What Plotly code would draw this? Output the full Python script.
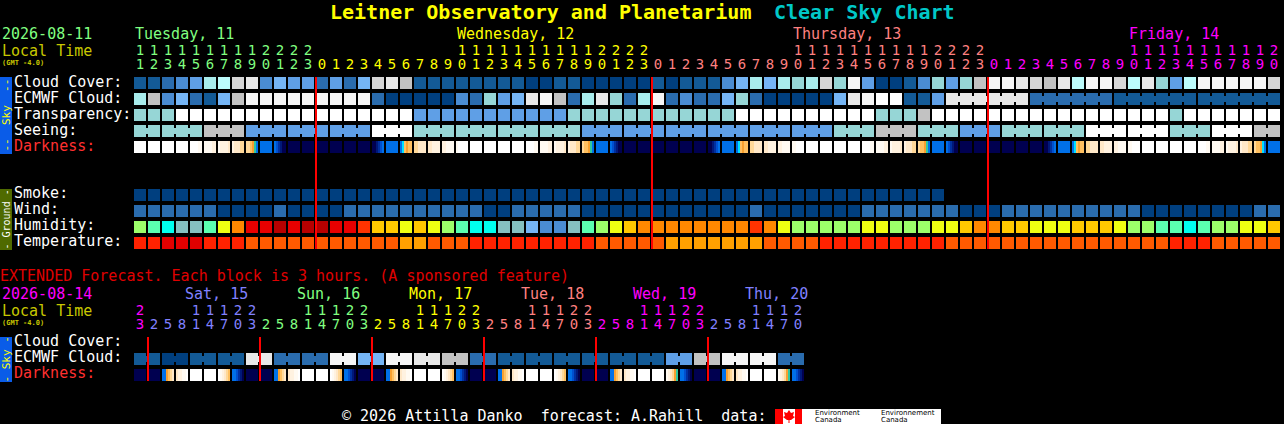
import plotly.graph_objects as go

# Palettes
CLOUD_COLORS = ['#003f7f', '#135a96', '#2a6cae', '#4a8cd2', '#5f9fe6', '#75b5f5', '#96d6d6',
                '#a8ecec', '#bcfcfc', '#c2c2c2', '#d6d6d6', '#e8e8e8', '#f6f6f6', '#ffffff']
HUMID_COLORS = ['#9cff6a', '#5bffb0', '#00ffee', '#85c0c0', '#4a8cd2', '#75b5f5',
                '#efff12', '#ffc800', '#ff8800', '#ff3300', '#e80000', '#b80000']
TEMP_COLORS = ['#ff2200', '#e00000', '#ff5a00', '#ffa000']
DARK_LETTERS = 'WABCDEFTYLMNOK'
DARK_COLORS = ['#ffffff', '#fffaf2', '#fff2e0', '#ffe8c8', '#ffd898', '#ffc060', '#f8a030',
               '#30c8a0', '#00e0ff', '#0070e8', '#0050d0', '#0030a0', '#001878', '#000050']

# Main forecast, one value per hour block
CLOUD_COVER = [1, 1, 2, 3, 4, 7, 8, 10, 11, 3, 5, 4, 4, 2, 4, 2, 5, 10, 11, 9, 1,
               1, 1, 1, 1, 1, 1, 1, 0, 0, 1, 1, 0, 0, 0, 0, 0, 1, 0, 1, 1, 1, 3, 5, 7, 5, 7, 6, 7, 10, 6, 12,
               4, 0, 0, 1, 3, 6, 4, 6, 9, 12, 12, 11, 10, 9, 11, 8, 12, 12, 10, 8, 11, 6, 4, 8, 12, 12, 12, 12, 12, 10]
ECMWF_CLOUD = [7, 9, 3, 5, 2, 1, 5, 9, 12, 12, 12, 12, 12, 12, 12, 12, 12, 2, 0, 0, 0,
               0, 0, 3, 2, 6, 4, 5, 11, 12, 9, 2, 7, 11, 6, 2, 7, 12, 2, 3, 2, 2, 5, 6, 2, 0, 0, 0, 0, 0, 5, 11,
               12, 13, 13, 1, 1, 4, 11, 11, 11, 11, 11, 11, 2, 2, 2, 2, 2, 2, 1, 1, 1, 1, 1, 1, 1, 1, 1, 1, 1, 1]
TRANSPARENCY = [6] * 3 + [13] * 17 + [4] * 11 + [6] * 12 + [13] * 10 + [6] * 3 + [9] + [13] * 17 + [6] + [13] * 7
SEEING_BLOCKS = [6, 6, 9, 4, 4, 4, 13, 6, 6, 6, 6, 4, 4, 4, 4, 4, 4, 6, 9, 6, 4, 6, 6, 13, 13, 6, 13, 9]
SMOKE = [0] * 58
WIND = [2, 2, 2, 2, 2, 2, 0, 0, 0, 0, 2, 0, 0, 0, 0, 2, 2, 2, 2, 2, 2,
        2, 2, 2, 2, 0, 0, 2, 2, 2, 2, 2, 0, 0, 0, 0, 0, 0, 0, 0, 0, 0, 0, 0, 2, 0, 0, 0, 0, 0, 0, 0,
        2, 2, 2, 2, 2, 2, 2, 0, 0, 0, 2, 2, 2, 2, 2, 2, 2, 2, 2, 2, 0, 0, 0, 0, 0, 0, 0, 0, 2, 2]
HUMIDITY = [0, 1, 2, 3, 3, 1, 6, 8, 10, 10, 11, 10, 11, 11, 10, 10, 9, 7, 7, 6, 7,
            6, 0, 1, 2, 2, 3, 3, 5, 4, 4, 3, 1, 0, 6, 7, 8, 8, 8, 8, 8, 8, 8, 8, 9, 8, 6, 0, 0, 0, 0, 0,
            6, 6, 0, 0, 0, 6, 6, 7, 8, 8, 7, 7, 6, 6, 6, 7, 7, 7, 6, 0, 0, 1, 1, 2, 1, 0, 0, 6, 6, 7]
TEMPERATURE = [0, 0, 1, 1, 1, 0, 0, 0, 2, 2, 2, 2, 2, 2, 2, 2, 2, 2, 2, 3, 3,
               2, 2, 2, 0, 0, 0, 0, 0, 0, 0, 0, 0, 2, 2, 2, 2, 2, 3, 3, 3, 3, 3, 3, 3, 2, 2, 2, 2, 0, 0, 0,
               0, 0, 0, 0, 0, 0, 2, 2, 2, 2, 2, 2, 2, 2, 2, 2, 2, 2, 2, 2, 2, 2, 0, 0, 0, 2, 2, 2, 2, 2]
# six samples across each block, letters index DARK_COLORS
DARKNESS = ['WWWWWW', 'WWWWWW', 'WWWWWW', 'WWWWWW', 'WWWWAA', 'AAAABB', 'ABBBBC', 'BCCCDD', 'DDEFTL', 'LLLLLL',
            'LMNOKK', 'KKKKKK', 'KKKKKK', 'KKKKKK', 'KKKKKK', 'KKKKKK', 'KKKKKK', 'KKONML', 'LLLLLL', 'LYEFEE',
            'DDCCCC', 'CCBBBB', 'BBAAAA', 'AWWWWW', 'WWWWWW', 'WWWWWW', 'WWWWWW', 'WWWWWW', 'WWWWAA', 'AAAABB',
            'ABBBBC', 'BCCCDD', 'DEEFTL', 'LLLLLL', 'LMNOKK', 'KKKKKK', 'KKKKKK', 'KKKKKK', 'KKKKKK', 'KKKKKK',
            'KKKKKK', 'KKONML', 'LLLLLL', 'LYEFEE', 'DDCCCC', 'CCBBBB', 'BBAAAA', 'AAWWWW', 'WWWWWW', 'WWWWWW',
            'WWWWWW', 'WWWWWW', 'WWWWAA', 'AAAABB', 'ABBBBC', 'BCCCDD', 'DEEFTL', 'LLLLLL', 'LMNOKK', 'KKKKKK',
            'KKKKKK', 'KKKKKK', 'KKKKKK', 'KKKKKK', 'KKKKKK', 'KKONML', 'LLLLLL', 'LYEFEE', 'DDCCCC', 'CCBBBB',
            'BBAAAA', 'AAWWWW', 'WWWWWW', 'WWWWWW', 'WWWWWW', 'WWWWWW', 'WWWWAA', 'AAAABB', 'ABBBBC', 'BCCCDD',
            'DEEFYL', 'LLLLLL']

DAY_NAMES = ['Tuesday, 11', 'Wednesday, 12', 'Thursday, 13', 'Friday, 14']
DAY_COLORS = ['#80ff80', '#ffff00', '#ff8080', '#ff00ff']
DAY_HOURS = [[11, 12, 13, 14, 15, 16, 17, 18, 19, 20, 21, 22, 23],
             [0, 1, 2, 3, 4, 5, 6, 7, 8, 9, 10, 11, 12, 13, 14, 15, 16, 17, 18, 19, 20, 21, 22, 23],
             [0, 1, 2, 3, 4, 5, 6, 7, 8, 9, 10, 11, 12, 13, 14, 15, 16, 17, 18, 19, 20, 21, 22, 23],
             [0, 1, 2, 3, 4, 5, 6, 7, 8, 9, 10, 11, 12, 13, 14, 15, 16, 17, 18, 19, 20]]
DAY_LABEL_X = [135, 457, 793, 1129]
MIDNIGHT_COLS = [13, 37, 61]

# Extended forecast, each block is 3 hours
EXT_ECMWF_PAIRS = [1, 0, 1, 1, 11, 2, 2, 12, 5, 12, 11, 9, 2, 1, 1, 1, 1, 1, 1, 4, 9, 12, 12, 2]
EXT_DARKNESS = ['KKKKKK', 'KKKKKK', 'LLFEDC', 'CBBAAW', 'WWWWWW', 'WWWWWW', 'WABCDE', 'LLMNOK',
                'KKKKKK', 'KKKKKK', 'LLFEDC', 'CBBAAW', 'WWWWWW', 'WWWWWW', 'WABCDE', 'LLMNOK',
                'KKKKKK', 'KKKKKK', 'LLFEDC', 'CBBAAW', 'WWWWWW', 'WWWWWW', 'WABCDE', 'LLMNOK',
                'KKKKKK', 'KKKKKK', 'LLFEDC', 'CBBAAW', 'WWWWWW', 'WWWWWW', 'WABCDE', 'LLMNOK',
                'KKKKKK', 'KKKKKK', 'LLFEDC', 'CBBAAW', 'WWWWWW', 'WWWWWW', 'ABCDFT', 'LLMNOK',
                'KKKKKK', 'KKKKKK', 'LLFEDC', 'CBBAAW', 'WWWWWW', 'WWWWWW', 'ABCDFT', 'LLMNOK']
EXT_DAY_NAMES = ['Sat, 15', 'Sun, 16', 'Mon, 17', 'Tue, 18', 'Wed, 19', 'Thu, 20']
EXT_DAY_COLORS = ['#ff00ff', '#8080ff', '#80ff80', '#ffff00', '#ff8080', '#ff00ff', '#8080ff']
EXT_DAY_HOURS = [[23],
                 [2, 5, 8, 11, 14, 17, 20, 23],
                 [2, 5, 8, 11, 14, 17, 20, 23],
                 [2, 5, 8, 11, 14, 17, 20, 23],
                 [2, 5, 8, 11, 14, 17, 20, 23],
                 [2, 5, 8, 11, 14, 17, 20, 23],
                 [2, 5, 8, 11, 14, 17, 20]]
EXT_DAY_LABEL_X = [185, 297, 409, 521, 633, 745]
EXT_MIDNIGHT_COLS = [1, 9, 17, 25, 33, 41]

MONO = 'DejaVu Sans Mono'
CELL_X0 = 134
PITCH = 14

fig = go.Figure()


def colorscale(colors):
    return [[i / (len(colors) - 1), c] for i, c in enumerate(colors)]


def add_row(values, colors, top):
    fig.add_trace(go.Heatmap(z=[values], x0=CELL_X0 + 6, dx=PITCH, y0=top + 6, dy=16,
                             xgap=2, ygap=4, zmin=0, zmax=len(colors) - 1,
                             colorscale=colorscale(colors), showscale=False, hoverinfo='skip'))


def add_joins(values, groups, colors, top):
    # the thin bridge between blocks that belong to one forecast period
    joins = [v if g is not None and g == n else None
             for v, g, n in zip(values, groups, groups[1:])]
    fig.add_trace(go.Heatmap(z=[joins], x0=CELL_X0 + 13, dx=PITCH, y0=top + 6, dy=16,
                             xgap=12, ygap=10, zmin=0, zmax=len(colors) - 1,
                             colorscale=colorscale(colors), showscale=False, hoverinfo='skip'))


def add_darkness(samples, top):
    z = []
    for cell in samples:
        z += [DARK_LETTERS.index(c) for c in cell] + [None]
    fig.add_trace(go.Heatmap(z=[z], x0=CELL_X0 + 1, dx=2, y0=top + 6, dy=16,
                             ygap=4, zmin=0, zmax=len(DARK_COLORS) - 1,
                             colorscale=colorscale(DARK_COLORS), showscale=False, hoverinfo='skip'))


def label(x, y, text, color='#ffffff', size=15, anchor='left', bold=False, font=MONO, angle=0):
    if bold:
        text = f'<b>{text}</b>'
    fig.add_annotation(x=x, y=y, text=text, showarrow=False, xanchor=anchor, yanchor='middle',
                       textangle=angle, font=dict(family=font, size=size, color=color), borderpad=0, borderwidth=0)


def add_hours(day_hours, day_colors, tens_y, units_y):
    col = 0
    for hours, color in zip(day_hours, day_colors):
        xs = [CELL_X0 + 6 + PITCH * (col + i) for i in range(len(hours))]
        fig.add_trace(go.Scatter(x=xs, y=[tens_y] * len(hours), mode='text',
                                 text=[str(h // 10) if h >= 10 else '' for h in hours],
                                 textfont=dict(family=MONO, size=14, color=color),
                                 showlegend=False, hoverinfo='skip'))
        fig.add_trace(go.Scatter(x=xs, y=[units_y] * len(hours), mode='text',
                                 text=[str(h % 10) for h in hours],
                                 textfont=dict(family=MONO, size=14, color=color),
                                 showlegend=False, hoverinfo='skip'))
        col += len(hours)


# %% Main rows
seeing = []
seeing_groups = []
for b, val in enumerate(SEEING_BLOCKS):
    n = 2 if b == 0 or b == len(SEEING_BLOCKS) - 1 else 3
    seeing += [val] * n
    seeing_groups += [b] * n

ecmwf_groups = [None] * 58 + [(c - 58) // 6 for c in range(58, 82)]

add_row(CLOUD_COVER, CLOUD_COLORS, 77)
add_row(ECMWF_CLOUD, CLOUD_COLORS, 93)
add_joins(ECMWF_CLOUD, ecmwf_groups, CLOUD_COLORS, 93)
add_row(TRANSPARENCY, CLOUD_COLORS, 109)
add_row(seeing, CLOUD_COLORS, 125)
add_joins(seeing, seeing_groups, CLOUD_COLORS, 125)
add_darkness(DARKNESS, 141)
add_row(SMOKE, CLOUD_COLORS, 189)
add_row(WIND, CLOUD_COLORS, 205)
add_row(HUMIDITY, HUMID_COLORS, 221)
add_row(TEMPERATURE, TEMP_COLORS, 237)

# %% Extended rows
ext_ecmwf = []
ext_groups = []
for p, val in enumerate(EXT_ECMWF_PAIRS):
    ext_ecmwf += [val, val]
    ext_groups += [p, p]
add_row(ext_ecmwf, CLOUD_COLORS, 353)
add_joins(ext_ecmwf, ext_groups, CLOUD_COLORS, 353)
add_darkness(EXT_DARKNESS, 369)

add_hours(DAY_HOURS, DAY_COLORS, 51, 65)
add_hours(EXT_DAY_HOURS, EXT_DAY_COLORS, 311, 325)

# %% Now markers
for col in MIDNIGHT_COLS:
    x = CELL_X0 + PITCH * col
    fig.add_shape(type='line', x0=x, x1=x, y0=77, y1=249, line=dict(color='#ff0000', width=2))
for col in EXT_MIDNIGHT_COLS:
    x = CELL_X0 + PITCH * col
    fig.add_shape(type='line', x0=x, x1=x, y0=337, y1=381, line=dict(color='#ff0000', width=2))

# %% Side bars
fig.add_shape(type='rect', x0=0, x1=12, y0=77, y1=154, fillcolor='#0a5ce8', line_width=0, layer='below')
fig.add_shape(type='rect', x0=0, x1=12, y0=189, y1=250, fillcolor='#4f6a00', line_width=0, layer='below')
fig.add_shape(type='rect', x0=0, x1=12, y0=337, y1=382, fillcolor='#0a5ce8', line_width=0, layer='below')
label(6, 115.5, '--  Sky  --', '#ffff00', 11, 'center', angle=-90)
label(6, 219.5, '- Ground -', '#ffffff', 10, 'center', angle=-90)
label(6, 359.5, '- Sky -', '#ffff00', 11, 'center', angle=-90)

# %% Text
label(330, 12, 'Leitner Observatory and Planetarium', '#ffff00', 20, bold=True)
label(774, 12, 'Clear Sky Chart', '#00c8c8', 20, bold=True)

label(2, 34, '2026-08-11', '#80ff80')
label(2, 51, 'Local Time', '#c8c800')
label(2, 63, '(GMT -4.0)', '#c8c800', 7, bold=True)
for name, color, x in zip(DAY_NAMES, DAY_COLORS, DAY_LABEL_X):
    label(x, 34, name, color)

for y, text, color in [(82, 'Cloud Cover:', '#ffffff'), (98, 'ECMWF Cloud:', '#ffffff'),
                       (114, 'Transparency:', '#ffffff'), (130, 'Seeing:', '#ffffff'),
                       (146, 'Darkness:', '#ff3030'), (193, 'Smoke:', '#ffffff'),
                       (209, 'Wind:', '#ffffff'), (225, 'Humidity:', '#ffffff'),
                       (241, 'Temperature:', '#ffffff'), (341, 'Cloud Cover:', '#ffffff'),
                       (357, 'ECMWF Cloud:', '#ffffff'), (373, 'Darkness:', '#ff3030')]:
    label(14, y, text, color)

label(0, 276, 'EXTENDED Forecast. Each block is 3 hours. (A sponsored feature)', '#e00000')
label(2, 294, '2026-08-14', '#ff00ff')
label(2, 311, 'Local Time', '#c8c800')
label(2, 323, '(GMT -4.0)', '#c8c800', 7, bold=True)
for name, color, x in zip(EXT_DAY_NAMES, EXT_DAY_COLORS[1:], EXT_DAY_LABEL_X):
    label(x, 294, name, color)

label(342, 416, '© 2026 Attilla Danko  forecast: A.Rahill  data:', '#ffffff')

# %% Environment Canada logo
fig.add_shape(type='rect', x0=775, x1=941, y0=409, y1=424, fillcolor='#ffffff', line_width=0)
fig.add_shape(type='rect', x0=775, x1=783, y0=409, y1=424, fillcolor='#ff0000', line_width=0)
fig.add_shape(type='rect', x0=795, x1=802, y0=409, y1=424, fillcolor='#ff0000', line_width=0)
fig.add_shape(type='path', fillcolor='#ff0000', line_width=0,
              path='M 789 410 L 791 413 L 794 412 L 793 416 L 795 417 L 791 420 L 789.5 420 L 789.5 423 '
                   'L 788.5 423 L 788.5 420 L 787 420 L 783 417 L 785 416 L 784 412 L 787 413 Z')
label(815, 412.5, 'Environment', '#000000', 7, font='DejaVu Sans')
label(815, 420, 'Canada', '#000000', 7, font='DejaVu Sans')
label(881, 412.5, 'Environnement', '#000000', 7, font='DejaVu Sans')
label(881, 420, 'Canada', '#000000', 7, font='DejaVu Sans')

fig.update_xaxes(range=[0, 1284], visible=False, fixedrange=True)
fig.update_yaxes(range=[424, 0], visible=False, fixedrange=True)
fig.update_layout(width=1284, height=424, margin=dict(l=0, r=0, t=0, b=0), showlegend=False,
                  paper_bgcolor='#000000', plot_bgcolor='#000000')

fig.write_html('out.html', config=dict(displayModeBar=False),
               post_script="document.body.style.margin='0';document.body.style.background='#000';")
